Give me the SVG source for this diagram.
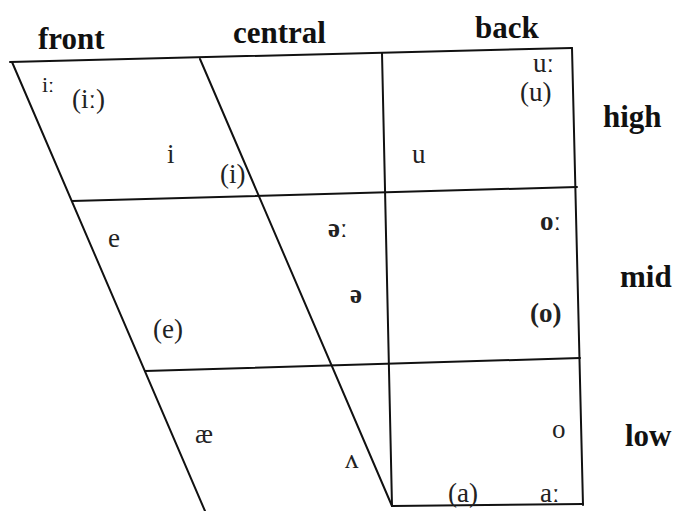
<svg xmlns="http://www.w3.org/2000/svg" width="678" height="511" viewBox="0 0 678 511">
<style>
.ln{stroke:#111;stroke-width:2;fill:none;stroke-linecap:round}
.hd{font-family:"Liberation Serif","DejaVu Serif",serif;font-weight:bold;font-size:31px;fill:#111}
.v{font-family:"Liberation Serif","DejaVu Serif",serif;font-size:27px;fill:#222}
.b{font-weight:bold}
</style>
<rect width="678" height="511" fill="#fff"/>
<g id="grid">
<line class="ln" x1="10" y1="62" x2="572" y2="48"/>
<line class="ln" x1="12" y1="62" x2="205" y2="511"/>
<line class="ln" x1="200" y1="59" x2="392" y2="506"/>
<line class="ln" x1="382" y1="53" x2="392" y2="506"/>
<line class="ln" x1="572" y1="48" x2="583" y2="505"/>
<line class="ln" x1="392" y1="506" x2="583" y2="504"/>
<line class="ln" x1="72" y1="201" x2="577" y2="187"/>
<line class="ln" x1="145" y1="371" x2="580" y2="358"/>
</g>
<g id="headers">
<text class="hd" x="38" y="49">front</text>
<text class="hd" x="233" y="43">central</text>
<text class="hd" x="475" y="38">back</text>
<text class="hd" x="603" y="127">high</text>
<text class="hd" x="620" y="287">mid</text>
<text class="hd" x="625" y="446">low</text>
</g>
<g id="vowels">
<text class="v" x="42" y="92" style="font-size:22px">iː</text>
<text class="v" x="72" y="108">(iː)</text>
<text class="v" x="167" y="163">i</text>
<text class="v" x="220" y="183">(i)</text>
<text class="v" x="533" y="72">uː</text>
<text class="v" x="520" y="101">(u)</text>
<text class="v" x="412" y="163">u</text>
<text class="v" x="108" y="247">e</text>
<text class="v" x="153" y="338">(e)</text>
<text class="v b" x="328" y="237">əː</text>
<text class="v b" x="350" y="303">ə</text>
<text class="v b" x="540" y="230">oː</text>
<text class="v b" x="530" y="322">(o)</text>
<text class="v" x="195" y="443">æ</text>
<text class="v" x="345" y="468">ʌ</text>
<text class="v" x="448" y="502">(a)</text>
<text class="v" x="540" y="502">aː</text>
<text class="v" x="552" y="438">o</text>
</g>
</svg>
